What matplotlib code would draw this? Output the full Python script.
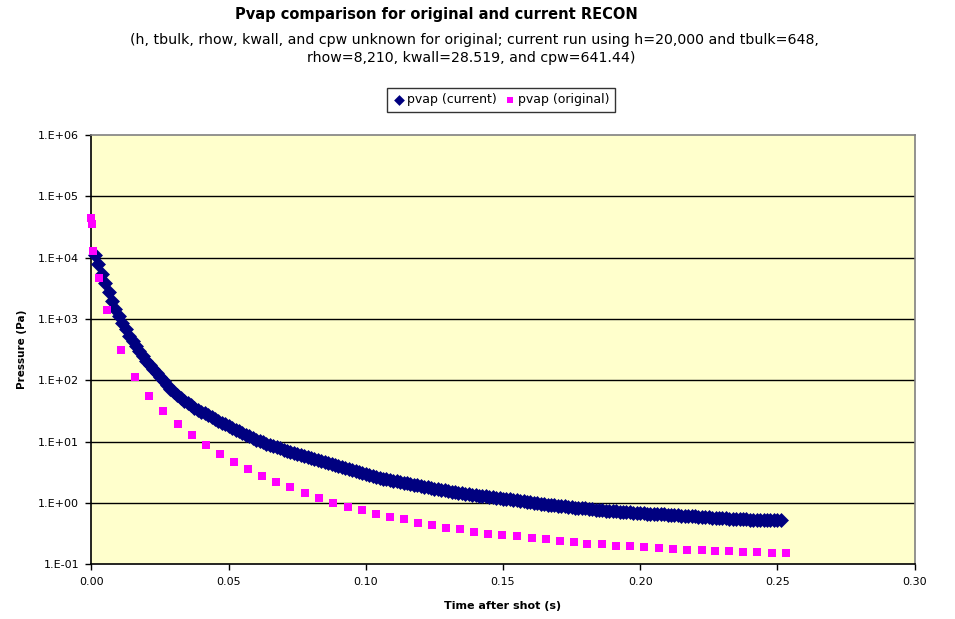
import numpy as np
import matplotlib
matplotlib.use("Agg")
import matplotlib.pyplot as plt
from matplotlib.ticker import FixedLocator, FuncFormatter

# current RECON run: pvap sampled every 1.25 ms
dt_current = 0.00125
p_current = [
    11000, 7760, 5500, 3800, 2750, 2000, 1480, 1120, 871, 676,
    537, 437, 359, 295, 248, 209, 178, 151, 130, 112,
    97.7, 84.1, 73.3, 64.6, 57.5, 51.3, 46.2, 42.2, 38.9, 35.9,
    33.1, 30.9, 28.8, 26.9, 25.1, 23.4, 21.9, 20.4, 19.1, 17.8,
    16.7, 15.7, 14.7, 13.8, 12.9, 12.2, 11.4, 10.7, 10.2, 9.70,
    9.25, 8.81, 8.43, 8.07, 7.73, 7.41, 7.11, 6.84, 6.56, 6.31,
    6.08, 5.86, 5.64, 5.43, 5.24, 5.04, 4.85, 4.68, 4.49, 4.32,
    4.14, 3.98, 3.83, 3.67, 3.53, 3.39, 3.27, 3.16, 3.05, 2.95,
    2.85, 2.75, 2.66, 2.57, 2.49, 2.43, 2.36, 2.29, 2.24, 2.19,
    2.14, 2.09, 2.04, 1.99, 1.93, 1.88, 1.84, 1.79, 1.74, 1.70,
    1.66, 1.63, 1.60, 1.57, 1.53, 1.51, 1.48, 1.45, 1.42, 1.40,
    1.37, 1.35, 1.32, 1.30, 1.28, 1.26, 1.24, 1.22, 1.19, 1.17,
    1.15, 1.14, 1.11, 1.10, 1.08, 1.06, 1.04, 1.02, 1.00, 0.989,
    0.973, 0.955, 0.942, 0.929, 0.914, 0.902, 0.889, 0.877, 0.863, 0.851,
    0.841, 0.832, 0.822, 0.813, 0.802, 0.791, 0.778, 0.767, 0.759, 0.750,
    0.741, 0.733, 0.726, 0.719, 0.714, 0.708, 0.701, 0.695, 0.690, 0.684,
    0.678, 0.673, 0.667, 0.661, 0.658, 0.653, 0.650, 0.646, 0.640, 0.635,
    0.630, 0.624, 0.618, 0.614, 0.608, 0.603, 0.597, 0.593, 0.587, 0.582,
    0.577, 0.573, 0.568, 0.562, 0.560, 0.556, 0.553, 0.550, 0.547, 0.543,
    0.541, 0.537, 0.536, 0.535, 0.532, 0.531, 0.530, 0.528, 0.526, 0.525,
    0.524,
]
t_current = np.arange(1, len(p_current) + 1) * dt_current

# original RECON output
t_original = [
    0.0, 0.0002, 0.0005, 0.0026, 0.0056, 0.0106,
    0.0158, 0.0209, 0.0259, 0.0315, 0.0368, 0.0419, 0.0470, 0.0520, 0.0572, 0.0622,
    0.0674, 0.0724, 0.0777, 0.0828, 0.0880, 0.0935, 0.0985, 0.1036, 0.1087,
    0.1139, 0.1191, 0.1241, 0.1292, 0.1343, 0.1394, 0.1445, 0.1497, 0.1552, 0.1604,
    0.1655, 0.1707, 0.1757, 0.1808, 0.1860, 0.1911, 0.1962, 0.2015, 0.2069, 0.2120,
    0.2171, 0.2224, 0.2273, 0.2324, 0.2375, 0.2427, 0.2479, 0.2530,
]
p_original = [
    44000, 35000, 12900, 4710, 1400, 308,
    112, 56, 31.6, 19.6, 12.7, 8.82, 6.36, 4.71, 3.58, 2.79,
    2.22, 1.82, 1.46, 1.21, 1.01, 0.86, 0.78, 0.67, 0.60,
    0.54, 0.48, 0.44, 0.395, 0.372, 0.340, 0.316, 0.301, 0.286, 0.272,
    0.259, 0.243, 0.229, 0.217, 0.212, 0.201, 0.197, 0.189, 0.182, 0.178,
    0.173, 0.169, 0.165, 0.163, 0.160, 0.157, 0.153, 0.153,
]

y_ticks = [1e-1, 1e0, 1e1, 1e2, 1e3, 1e4, 1e5, 1e6]
x_ticks = [0.0, 0.05, 0.10, 0.15, 0.20, 0.25, 0.30]

plt.rcParams['font.family'] = ['DejaVu Sans']

fig = plt.figure(figsize=(9.55, 6.19), dpi=100)
ax = fig.add_axes([0.0958, 0.0884, 0.8618, 0.6935])
ax.set_facecolor('#FFFFCC')

ax.scatter(t_current, p_current, marker='D', s=58, color='#000080',
           linewidths=0, label='pvap (current)', zorder=3, clip_on=False)
ax.scatter(t_original, p_original, marker='s', s=38, color='#FF00FF',
           linewidths=0, label='pvap (original)', zorder=4, clip_on=False)

ax.set_yscale('log')
ax.set_ylim(1e-1, 1e6)
ax.set_xlim(0, 0.30)
ax.yaxis.set_major_locator(FixedLocator(y_ticks))
ax.yaxis.set_minor_locator(FixedLocator([]))
ax.yaxis.set_major_formatter(FuncFormatter(lambda v, pos: '1.E%+03d' % int(round(np.log10(v)))))
ax.xaxis.set_major_locator(FixedLocator(x_ticks))
ax.xaxis.set_major_formatter(FuncFormatter(lambda v, pos: '%.2f' % v))

for y in y_ticks[1:-1]:
    ax.axhline(y, color='black', lw=1, zorder=1)

for side in ['left', 'bottom']:
    ax.spines[side].set_color('black')
    ax.spines[side].set_linewidth(1.2)
for side in ['top', 'right']:
    ax.spines[side].set_color('#808080')
    ax.spines[side].set_linewidth(1.2)

ax.tick_params(axis='both', direction='out', length=4, width=1, labelsize=8,
               color='black', pad=5)

ax.set_xlabel('Time after shot (s)', fontsize=8, fontweight='bold', labelpad=10)
ax.set_ylabel('Pressure (Pa)', fontsize=7.5, fontweight='bold', labelpad=8)

fig.text(0.457, 1 - 15 / 619, 'Pvap comparison for original and current RECON',
         ha='center', va='center', fontsize=10.5, fontweight='bold')
fig.text(0.497, 1 - 40 / 619,
         '(h, tbulk, rhow, kwall, and cpw unknown for original; current run using h=20,000 and tbulk=648,',
         ha='center', va='center', fontsize=10.2)
fig.text(0.493, 1 - 58 / 619, 'rhow=8,210, kwall=28.519, and cpw=641.44)',
         ha='center', va='center', fontsize=10.2)

leg = ax.legend(loc='center', bbox_to_anchor=(0.5246, 1 - 100 / 619),
                bbox_transform=fig.transFigure, ncol=2, fontsize=9,
                frameon=True, fancybox=False, borderpad=0.45,
                handletextpad=0.1, columnspacing=0.6, handlelength=1.0,
                markerscale=0.72, borderaxespad=0)
leg.get_frame().set_edgecolor('black')
leg.get_frame().set_linewidth(1)

fig.savefig('out.png', dpi=100)
